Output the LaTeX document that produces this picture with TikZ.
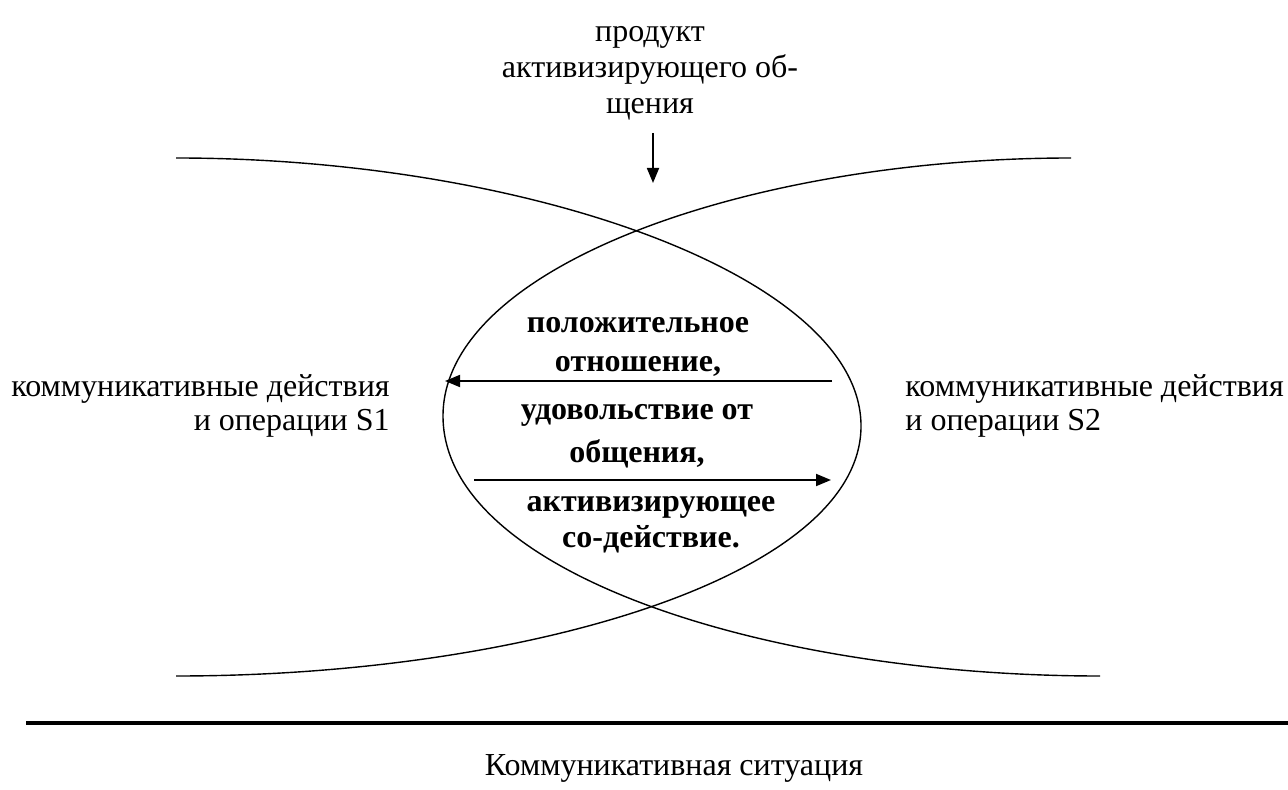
\documentclass[tikz,border=0pt]{standalone}
\usepackage{fontspec}
\setmainfont{Liberation Serif}
\usetikzlibrary{arrows.meta}

\tikzset{
  lbl/.style={inner sep=0pt, font=\fontsize{16pt}{#1}\selectfont},
  boldlbl/.style={inner sep=0pt, align=center, font=\fontsize{16pt}{#1}\selectfont\bfseries},
  curve/.style={line width=0.7pt},
  flow/.style={-{Triangle[length=7.5pt,width=6pt]}, line width=0.9pt},
}

\begin{document}
\begin{tikzpicture}[x=0.5pt,y=-0.5pt]
        \useasboundingbox (0,0) rectangle (1288,790);
        %%% labels
        \node[lbl=18pt,align=center] (prod) at (650,73) {продукт\\активизирующего об-\\щения};
        \node[lbl=17pt,align=right,anchor=east] (s1) at (390,406) {коммуникативные действия\\и операции S1};
        \node[lbl=17pt,align=left,anchor=west] (s2) at (905,406) {коммуникативные действия\\и операции S2};
        \node[boldlbl=19.5pt] (attitude) at (638,347) {положительное\\отношение,};
        \node[boldlbl=21.5pt] (pleasure) at (637,436) {удовольствие от\\общения,};
        \node[boldlbl=18pt] (assist) at (651,525) {активизирующее\\со-действие.};
        \node[lbl=18pt] (situation) at (674,768) {Коммуникативная ситуация};

        %%% arrow ends
        \coordinate (top) at (653,133);
        \coordinate (lens) at (653,183);
        \coordinate (r1) at (832,381);
        \coordinate (l1) at (445,381);
        \coordinate (l2) at (474,480);
        \coordinate (r2) at (831,480);
        \coordinate (ruleL) at (26,723);
        \coordinate (ruleR) at (1288,723);

        %%% the two crossing arcs
        \draw[curve] (176,158) .. controls (526,158) and (861,276) .. (861,426)
                               .. controls (861,576) and (526,676) .. (176,676);
        \draw[curve] (1071,158) .. controls (750,158) and (443,266) .. (443,416)
                                .. controls (443,572) and (764,676) .. (1100,676);

        \draw[flow] (top) -- (lens);
        \draw[flow] (r1) -- (l1);
        \draw[flow] (l2) -- (r2);
        \draw[line width=2pt] (ruleL) -- (ruleR);
\end{tikzpicture}
\end{document}
